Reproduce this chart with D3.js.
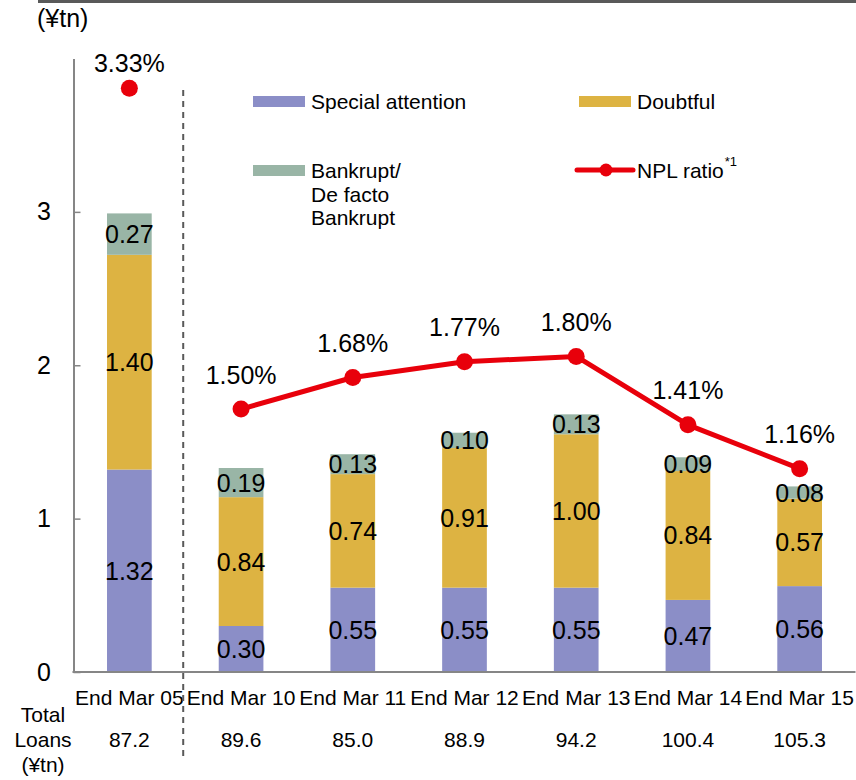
<!DOCTYPE html>
<html>
<head>
<meta charset="utf-8">
<script src="https://cdn.jsdelivr.net/npm/d3@7"></script>
<style>
  html, body { margin: 0; padding: 0; background: #fff; }
  svg { display: block; font-family: "Liberation Sans", Arial, sans-serif; }
</style>
</head>
<body>
<svg id="chart" width="856" height="780"></svg>
<script>
// Non-performing loans by category (¥tn) and NPL ratio (%)
const categories = ["End Mar 05", "End Mar 10", "End Mar 11", "End Mar 12", "End Mar 13", "End Mar 14", "End Mar 15"];
const specialAttention = [1.32, 0.30, 0.55, 0.55, 0.55, 0.47, 0.56];
const doubtful = [1.40, 0.84, 0.74, 0.91, 1.00, 0.84, 0.57];
const bankrupt = [0.27, 0.19, 0.13, 0.10, 0.13, 0.09, 0.08];
const nplRatio = [3.33, 1.50, 1.68, 1.77, 1.80, 1.41, 1.16];
const totalLoans = ["87.2", "89.6", "85.0", "88.9", "94.2", "100.4", "105.3"];
const yTicks = [0, 1, 2, 3];

const seriesNames = ["Special attention", "Doubtful", "Bankrupt/De facto Bankrupt"];
const colors = { sa: "#8b8ec7", db: "#ddb342", bk: "#99b5a6", npl: "#e8000b" };
const axisGrey = "#868686";

const svg = d3.select("#chart");
const plotLeft = 73.5, plotRight = 855.5, plotTop = 58.5, plotBottom = 672;

const x = d3.scaleBand().domain(categories).range([plotLeft, plotRight])
  .paddingInner(0.6).paddingOuter(0.3);
const y = d3.scaleLinear().domain([0, 4]).range([plotBottom, plotTop]);
const y2 = d3.scaleLinear().domain([0, 3.5]).range([plotBottom, plotTop]);
const cx = c => x(c) + x.bandwidth() / 2;

// top rule
svg.append("line").attr("x1", 38).attr("x2", 856).attr("y1", 1.5).attr("y2", 1.5)
  .attr("stroke", "#595959").attr("stroke-width", 3);

// unit label
svg.append("text").attr("x", 37).attr("y", 27).attr("font-size", 25).text("(¥tn)");

// stacked bars
const rows = categories.map((c, i) => ({ cat: c, sa: specialAttention[i], db: doubtful[i], bk: bankrupt[i] }));
const stack = d3.stack().keys(["sa", "db", "bk"])(rows);

stack.forEach(layer => {
  const key = layer.key;
  const g = svg.append("g");
  g.selectAll("rect").data(layer).join("rect")
    .attr("x", d => x(d.data.cat))
    .attr("width", x.bandwidth())
    .attr("y", d => y(d[1]))
    .attr("height", d => y(d[0]) - y(d[1]))
    .attr("fill", colors[key]);
  g.selectAll("text").data(layer).join("text")
    .attr("x", d => cx(d.data.cat))
    .attr("y", d => (y(d[0]) + y(d[1])) / 2 + 9)
    .attr("text-anchor", "middle")
    .attr("font-size", 25)
    .attr("fill", "#000")
    .text(d => d.data[key].toFixed(2));
});

// y axis with short inward ticks
const yAxis = d3.axisLeft(y).tickValues(yTicks).tickSizeInner(-7).tickSizeOuter(0)
  .tickFormat(d3.format("d"));
const gy = svg.append("g").attr("transform", `translate(${plotLeft},0)`).call(yAxis);
gy.select(".domain").attr("stroke", axisGrey).attr("stroke-width", 2);
gy.selectAll(".tick line").attr("stroke", axisGrey).attr("stroke-width", 1.5);
gy.selectAll(".tick text").attr("x", -22.5).attr("font-size", 25)
  .attr("font-family", "Liberation Sans, Arial, sans-serif").attr("fill", "#000");

svg.append("line").attr("x1", plotLeft - 1).attr("x2", plotRight).attr("y1", plotBottom).attr("y2", plotBottom)
  .attr("stroke", axisGrey).attr("stroke-width", 2);

// category axis
const xAxis = d3.axisBottom(x).tickSize(0).tickPadding(0);
const gx = svg.append("g").attr("transform", `translate(0,${plotBottom})`).call(xAxis);
gx.select(".domain").remove();
gx.selectAll(".tick text").attr("y", 33).attr("dy", 0).attr("font-size", 21)
  .attr("font-family", "Liberation Sans, Arial, sans-serif").attr("fill", "#000");

// total loans row
svg.append("g").selectAll("text").data(categories).join("text")
  .attr("x", d => cx(d))
  .attr("y", 747)
  .attr("text-anchor", "middle").attr("font-size", 21)
  .text((d, i) => totalLoans[i]);
const tl = svg.append("text").attr("text-anchor", "middle").attr("font-size", 21);
["Total", "Loans", "(¥tn)"].forEach((t, i) =>
  tl.append("tspan").attr("x", 43).attr("y", 722 + i * 25).text(t));

// separator between 2005 and later years
const sepX = x(categories[0]) + x.bandwidth() + (x.step() - x.bandwidth()) / 2 - 2;
svg.append("line").attr("x1", sepX).attr("x2", sepX).attr("y1", 90).attr("y2", 757)
  .attr("stroke", "#595959").attr("stroke-width", 2).attr("stroke-dasharray", "6,5");

// NPL ratio line (continuous from Mar 10 onwards)
const pts = categories.map((c, i) => ({ cat: c, v: nplRatio[i], i }));
const line = d3.line().x(d => cx(d.cat)).y(d => y2(d.v));
svg.append("path").datum(pts.slice(1)).attr("d", line)
  .attr("fill", "none").attr("stroke", colors.npl).attr("stroke-width", 5)
  .attr("stroke-linejoin", "round");
svg.append("g").selectAll("circle").data(pts).join("circle")
  .attr("cx", d => cx(d.cat)).attr("cy", d => y2(d.v))
  .attr("r", 8.5).attr("fill", colors.npl);
// the 2005 label sits tighter to its marker, next to the plot top
svg.append("g").selectAll("text").data(pts).join("text")
  .attr("x", d => cx(d.cat)).attr("y", d => y2(d.v) - (d.i === 0 ? 16 : 25.5))
  .attr("text-anchor", "middle").attr("font-size", 25)
  .text(d => d.v.toFixed(2) + "%");

// legend
const lg = svg.append("g").attr("font-size", 21);
lg.append("rect").attr("x", 253).attr("y", 96).attr("width", 52).attr("height", 11).attr("fill", colors.sa);
lg.append("text").attr("x", 311).attr("y", 109).text(seriesNames[0]);
lg.append("rect").attr("x", 579).attr("y", 96).attr("width", 52).attr("height", 11).attr("fill", colors.db);
lg.append("text").attr("x", 637).attr("y", 109).text(seriesNames[1]);
lg.append("rect").attr("x", 253).attr("y", 165).attr("width", 52).attr("height", 11).attr("fill", colors.bk);
const bt = lg.append("text");
["Bankrupt/", "De facto", "Bankrupt"].forEach((t, i) =>
  bt.append("tspan").attr("x", 311).attr("y", 178 + i * 23.7).text(t));
lg.append("line").attr("x1", 577).attr("x2", 633).attr("y1", 170).attr("y2", 170)
  .attr("stroke", colors.npl).attr("stroke-width", 5).attr("stroke-linecap", "round");
lg.append("circle").attr("cx", 606).attr("cy", 170).attr("r", 6.5).attr("fill", colors.npl);
const nt = lg.append("text").attr("x", 637).attr("y", 178).text("NPL ratio");
nt.append("tspan").attr("font-size", 13).attr("dx", 1).attr("dy", -12).text("*1");
</script>
</body>
</html>
